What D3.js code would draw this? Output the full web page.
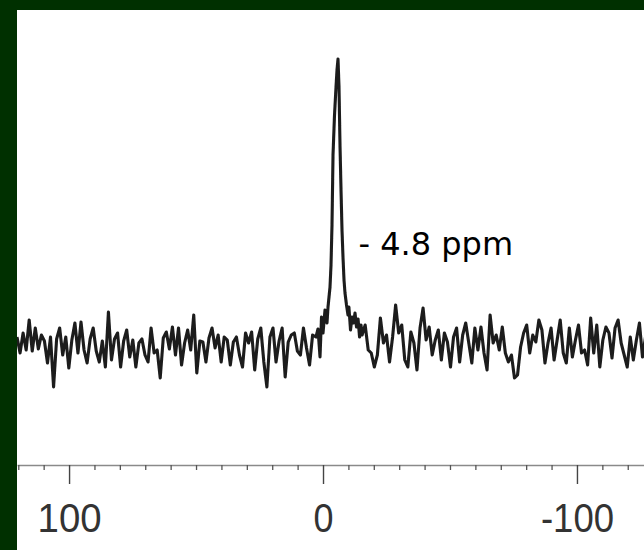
<!DOCTYPE html>
<html>
<head>
<meta charset="utf-8">
<script src="https://cdn.jsdelivr.net/npm/d3@7"></script>
<style>
  html, body { margin: 0; padding: 0; background: #003000; }
  svg { display: block; }
</style>
</head>
<body>
<script>
// ---- Data ----
// chemical-shift axis (ppm), displayed high → low
const ppmDomain = [120.5, -126.4];
const majorTicks = [100, 0, -100];
const minorTicks = [120, 110, 90, 80, 70, 60, 50, 40, 30, 20, 10, -10, -20, -30, -40, -50, -60, -70, -80, -90, -110, -120];
const peakLabel = "- 4.8 ppm";

// baseline noise, left part: sampled from 120.5 ppm downward every 1.2 ppm
const noiseAStart = 120.5, noiseAStep = -1.2;
const noiseA = [8, -8, 12, -5, 25, -6, 17, -4, 10, 4, -18, 8, -42, 6, 17, -10, 8, -23, 5, 22,
  -8, 23, -5, -18, 6, 17, -6, -17, 4, -22, 33, -15, 6, 12, -22, 4, 15, -12, 5, -22,
  2, 6, -10, -17, 17, -8, -5, -33, 7, 13, -4, 18, -10, 17, -20, 2, 15, -5, 30, -28,
  4, 3, -17, 7, 17, -3, 10, -17, 8, 5, -20, 3, 8, -10, -22, 12, 2, 13, -25, 6,
  17, -17, -42, 8, 17, -17, 4, 17, -32, 3, 10, 12, -6, -10, 17, -3, -20, 10];

// the resonance and its foot (explicit ppm / intensity pairs)
const peakPpm = [2.76, 1.97, 1.18, 0.59, 0, -0.79, -1.57, -1.97, -2.76, -3.15, -3.54, -3.94, -4.53, -5.12, -5.51, -5.91,
  -6.30, -6.69, -7.09, -7.48, -7.87, -8.27, -8.66, -9.25, -9.84, -10.2, -10.83, -11.42, -12.0, -12.6, -13.2, -13.8, -14.4, -14.96];
const peakInt = [8, 16, -12, 28, 12, 35, 22, 38, 58, 80, 120, 190, 230, 258, 275, 286,
  258, 200, 155, 115, 88, 65, 52, 40, 30, 38, 15, 28, 22, 32, 18, 26, 8, 20];

// baseline noise, right part: sampled from -15.4 ppm downward every 1.2 ppm
const noiseBStart = -15.4, noiseBStep = -1.2;
const noiseB = [10, 20, -5, -8, -22, -10, 27, 2, 10, -17, 8, 40, 12, 20, -15, -22, 13, 2, -25, 17,
  37, 5, 18, -10, 5, 15, -15, 12, 3, -22, 8, 17, -17, 10, 22, 2, -18, 17, -5, 18,
  -8, -25, 30, 2, 10, -5, 18, -8, -17, -10, -33, -30, -2, 12, 20, -8, 10, 3, 25, 15,
  -18, 2, 17, -15, 5, 25, -8, -18, 17, -12, 5, 20, -8, -5, -20, 27, -8, 20, -22, 5,
  18, 12, -13, 17, 25, 2, -10, -22, 8, -15, 5, 22, -12, 8];

// ---- Build the series ----
const series = [];
noiseA.forEach((v, i) => series.push({ppm: noiseAStart + i * noiseAStep, v}));
peakPpm.forEach((p, i) => series.push({ppm: p, v: peakInt[i]}));
noiseB.forEach((v, i) => series.push({ppm: noiseBStart + i * noiseBStep, v}));
series.sort((a, b) => b.ppm - a.ppm);

// ---- Layout ----
const W = 644, H = 550;
const plot = {left: 17, top: 10, right: 644, bottom: 550};
const axisY = 465;

const svg = d3.select("body").append("svg").attr("width", W).attr("height", H);

// soft "scanned" look for the trace
const defs = svg.append("defs");
defs.append("filter").attr("id", "soft")
  .append("feGaussianBlur").attr("stdDeviation", 0.5);
defs.append("clipPath").attr("id", "clip").append("rect")
  .attr("x", plot.left).attr("y", plot.top)
  .attr("width", plot.right - plot.left).attr("height", plot.bottom - plot.top);

// dark green frame + white sheet
svg.append("rect").attr("width", W).attr("height", H).attr("fill", "#003000");
svg.append("rect").attr("x", plot.left).attr("y", plot.top)
  .attr("width", plot.right - plot.left).attr("height", plot.bottom - plot.top).attr("fill", "#ffffff");

const x = d3.scaleLinear().domain(ppmDomain).range([plot.left, plot.right]);
const y = d3.scaleLinear().domain([0, 286]).range([345, 59]);

// spectrum trace
svg.append("g").attr("clip-path", "url(#clip)")
  .append("path")
  .datum(series)
  .attr("filter", "url(#soft)")
  .attr("fill", "none")
  .attr("stroke", "#1c1c1c")
  .attr("stroke-width", 3.1)
  .attr("stroke-linejoin", "round")
  .attr("d", d3.line().x(d => x(d.ppm)).y(d => y(d.v)));

// major ticks + labels (with axis line)
const majorAxis = svg.append("g").attr("transform", `translate(0,${axisY})`)
  .call(d3.axisBottom(x).tickValues(majorTicks).tickSize(19).tickSizeOuter(0).tickPadding(20)
    .tickFormat(d => String(d)));
majorAxis.select(".domain").attr("stroke", "#8a8a8a").attr("stroke-width", 1.4);
majorAxis.selectAll(".tick line").attr("stroke", "#444").attr("stroke-width", 1.4);
majorAxis.selectAll(".tick text")
  .attr("fill", "#333")
  .attr("font-family", "Liberation Sans, Arial, sans-serif")
  .attr("font-size", 40)
  .attr("textLength", d => d < 0 ? 73 : (d === 0 ? 20 : 64))
  .attr("lengthAdjust", "spacingAndGlyphs");

// minor ticks
const minorAxis = svg.append("g").attr("transform", `translate(0,${axisY})`)
  .call(d3.axisBottom(x).tickValues(minorTicks).tickSize(5).tickFormat(""));
minorAxis.select(".domain").remove();
minorAxis.selectAll(".tick line").attr("stroke", "#555").attr("stroke-width", 1.3);

// peak annotation
svg.append("text")
  .attr("x", 358.5).attr("y", 255)
  .attr("font-family", "DejaVu Sans, sans-serif")
  .attr("font-size", 32)
  .attr("fill", "#000")
  .text(peakLabel);
</script>
</body>
</html>
